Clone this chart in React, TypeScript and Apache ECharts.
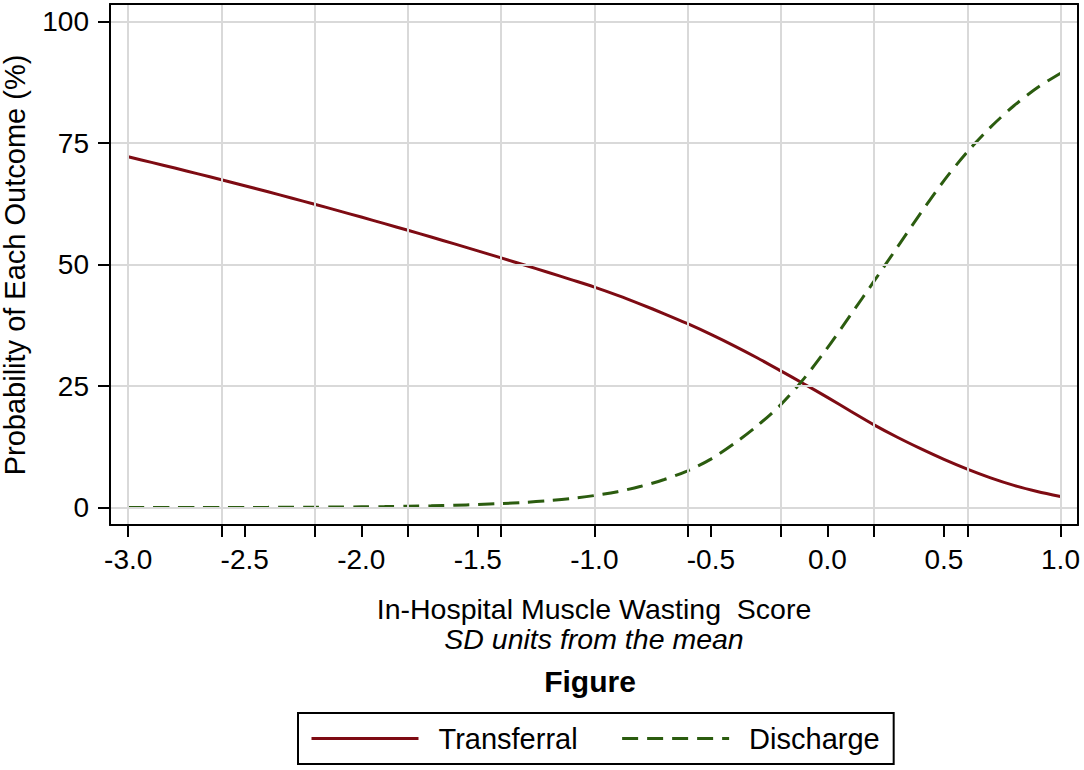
import React, { useEffect, useRef } from "react";
import * as echarts from "echarts";

const xValues = [
  -3.0, -2.9, -2.8, -2.7, -2.6, -2.5, -2.4, -2.3, -2.2, -2.1,
  -2.0, -1.9, -1.8, -1.7, -1.6, -1.5, -1.4, -1.3, -1.2, -1.1,
  -1.0, -0.9, -0.8, -0.7, -0.6, -0.5, -0.4, -0.3, -0.2, -0.1,
  0.0, 0.1, 0.2, 0.3, 0.4, 0.5, 0.6, 0.7, 0.8, 0.9, 1.0,
];

const transferral = [
  72.2, 71.05, 69.88, 68.69, 67.48, 66.25, 65.0, 63.73, 62.44, 61.13,
  59.8, 58.45, 57.08, 55.69, 54.28, 52.85, 51.4, 49.93, 48.44, 46.93,
  45.4, 43.7, 41.85, 39.9, 37.85, 35.65, 33.3, 30.8, 28.15, 25.45,
  22.7, 19.85, 17.05, 14.5, 12.15, 9.95, 7.95, 6.15, 4.6, 3.35, 2.3,
];

const discharge = [
  0.02, 0.03, 0.03, 0.04, 0.05, 0.06, 0.07, 0.09, 0.11, 0.14,
  0.18, 0.23, 0.3, 0.38, 0.5, 0.65, 0.85, 1.1, 1.45, 1.9,
  2.5, 3.3, 4.4, 5.8, 7.6, 10.0, 13.2, 16.9, 21.2, 26.6,
  32.9, 39.7, 46.6, 53.6, 60.6, 67.3, 73.2, 78.3, 82.7, 86.4, 89.4,
];

const xTickLabels = [-3.0, -2.5, -2.0, -1.5, -1.0, -0.5, 0.0, 0.5, 1.0];
const xGridValues = [-3.0, -2.6, -2.2, -1.8, -1.4, -1.0, -0.6, -0.2, 0.2, 0.6, 1.0];
const yTickValues = [0, 25, 50, 75, 100];

const seriesNames = ["Transferral", "Discharge"];
const titleX = "In-Hospital Muscle Wasting  Score";
const subtitleX = "SD units from the mean";
const titleY = "Probability of Each Outcome (%)";
const captionText = "Figure";

const FONT = "'Liberation Sans', Arial, Helvetica, sans-serif";
const RED = "#7e0b13";
const GREEN = "#2b5c0f";

export default function App() {
  const ref = useRef<HTMLDivElement>(null);

  useEffect(() => {
    document.body.style.margin = "0";
    if (!ref.current) return;
    const chart = echarts.init(ref.current, null, { renderer: "svg" });

    const xTickValues = Array.from(new Set([...xGridValues, ...xTickLabels])).sort((a, b) => a - b);
    const xMin = -3.078;
    const xMax = 1.075;
    const yMin = -3.56;
    const yMax = 103.64;

    const gridMarks = [
      ...xGridValues.map((v) => ({ xAxis: v })),
      ...yTickValues.map((v) => ({ yAxis: v })),
    ];

    const textBase = {
      fontFamily: FONT,
      fill: "#000",
      align: "center",
      verticalAlign: "middle",
      textAlign: "center",
      textVerticalAlign: "middle",
    };

    const option: any = {
      animation: false,
      backgroundColor: "#ffffff",
      grid: { left: 110, right: 6, top: 4, bottom: 245, containLabel: false },
      xAxis: [
        {
          type: "value",
          min: xMin,
          max: xMax,
          z: 10,
          axisLine: { show: true, onZero: false, lineStyle: { color: "#000", width: 2 } },
          axisTick: { show: true, length: 12, customValues: xTickValues, lineStyle: { color: "#000", width: 2 } },
          axisLabel: {
            customValues: xTickLabels,
            formatter: (v: number) => v.toFixed(1),
            fontSize: 28,
            fontFamily: FONT,
            color: "#000",
            margin: 20,
          },
          splitLine: { show: false },
        },
        {
          type: "value",
          position: "top",
          min: xMin,
          max: xMax,
          z: 10,
          axisLine: { show: true, onZero: false, lineStyle: { color: "#000", width: 2 } },
          axisTick: { show: false },
          axisLabel: { show: false },
          splitLine: { show: false },
        },
      ],
      yAxis: [
        {
          type: "value",
          min: yMin,
          max: yMax,
          z: 10,
          axisLine: { show: true, onZero: false, lineStyle: { color: "#000", width: 2 } },
          axisTick: { show: true, length: 12, customValues: yTickValues, lineStyle: { color: "#000", width: 2 } },
          axisLabel: {
            customValues: yTickValues,
            fontSize: 28,
            fontFamily: FONT,
            color: "#000",
            margin: 21,
          },
          splitLine: { show: false },
        },
        {
          type: "value",
          position: "right",
          min: yMin,
          max: yMax,
          z: 10,
          axisLine: { show: true, onZero: false, lineStyle: { color: "#000", width: 2 } },
          axisTick: { show: false },
          axisLabel: { show: false },
          splitLine: { show: false },
        },
      ],
      legend: {
        data: seriesNames,
        left: 298,
        top: 713,
        padding: [11, 14, 11, 12],
        itemWidth: 107,
        itemHeight: 30,
        itemGap: 43,
        borderColor: "#000",
        borderWidth: 2,
        borderRadius: 0,
        selectedMode: false,
        itemStyle: { opacity: 0 },
        lineStyle: { width: 3 },
        textStyle: { fontSize: 29, fontFamily: FONT, color: "#000", padding: [0, 0, 0, 15] },
      },
      graphic: [
        {
          type: "text",
          x: 15,
          y: 265,
          rotation: Math.PI / 2,
          style: { ...textBase, text: titleY, fontSize: 29 },
        },
        {
          type: "text",
          x: 594,
          y: 609,
          style: { ...textBase, text: titleX, fontSize: 28.5 },
        },
        {
          type: "text",
          x: 594,
          y: 639,
          style: { ...textBase, text: subtitleX, fontSize: 28.5, fontStyle: "italic" },
        },
        {
          type: "text",
          x: 590,
          y: 681,
          style: { ...textBase, text: captionText, fontSize: 30, fontWeight: "bold" },
        },
      ],
      series: [
        {
          name: "gridlines",
          type: "line",
          data: [[-3, 0]],
          symbol: "none",
          silent: true,
          lineStyle: { opacity: 0 },
          z: 1,
          markLine: {
            silent: true,
            symbol: ["none", "none"],
            label: { show: false },
            emphasis: { disabled: true },
            lineStyle: { color: "#d9d9d9", width: 2, type: "solid" },
            data: gridMarks,
          },
        },
        {
          name: seriesNames[0],
          type: "line",
          data: xValues.map((x, i) => [x, transferral[i]]),
          symbol: "none",
          showSymbol: false,
          smooth: 0.3,
          z: 3,
          lineStyle: { color: RED, width: 3 },
          itemStyle: { color: RED },
        },
        {
          name: seriesNames[1],
          type: "line",
          data: xValues.map((x, i) => [x, discharge[i]]),
          symbol: "none",
          showSymbol: false,
          smooth: 0.3,
          z: 3,
          lineStyle: { color: GREEN, width: 3, type: [16, 9] },
          itemStyle: { color: GREEN },
        },
      ],
    };

    chart.setOption(option);
    return () => chart.dispose();
  }, []);

  return <div ref={ref} style={{ width: 1084, height: 770 }} />;
}
